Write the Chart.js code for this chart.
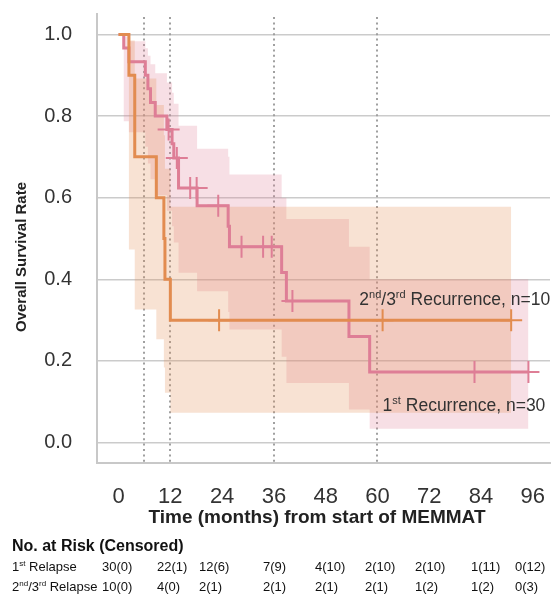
<!DOCTYPE html>
<html>
<head>
<meta charset="utf-8">
<title>Overall survival by recurrence</title>
<script src="https://cdn.jsdelivr.net/npm/chart.js@4.4.0/dist/chart.umd.min.js"></script>
<style>
  html, body { margin: 0; padding: 0; background: #fff; }
  #wrap { width: 552px; height: 594px; }
</style>
</head>
<body>
<div id="wrap"><canvas id="kmChart" width="552" height="594"></canvas></div>
<script>
// --- DATA ---
const xTicks = [0, 12, 24, 36, 48, 60, 72, 84, 96];
const yTicks = [0, 0.2, 0.4, 0.6, 0.8, 1.0];
const landmarkMonths = [6, 12, 36, 60];

// 1st recurrence, n=30
const firstTimes = [0, 1.2, 2.4, 6.2, 6.8, 7.4, 8.5, 11.2, 12.4, 12.8, 13.9, 18.2, 25.4, 25.7, 37.8, 38.9, 53.4, 58.2, 95.0];
const firstSurv  = [1, 0.967, 0.933, 0.9, 0.867, 0.833, 0.8, 0.767, 0.732, 0.697, 0.624, 0.58, 0.53, 0.48, 0.417, 0.347, 0.26, 0.173, 0.173];
const firstUpper = [1, 0.995, 0.983, 0.966, 0.948, 0.927, 0.905, 0.882, 0.857, 0.83, 0.776, 0.72, 0.70, 0.657, 0.60, 0.548, 0.48, 0.40, 0.40];
const firstLower = [1, 0.787, 0.76, 0.725, 0.684, 0.645, 0.606, 0.568, 0.53, 0.49, 0.416, 0.371, 0.32, 0.277, 0.21, 0.146, 0.081, 0.034, 0.034];
const firstCensorTimes = [11.6, 13.5, 16.6, 18.1, 23.1, 28.5, 33.5, 35.5, 40.3, 82.5, 95.0];
const firstCensorSurv  = [0.767, 0.697, 0.624, 0.624, 0.58, 0.48, 0.48, 0.48, 0.347, 0.173, 0.173];

// 2nd/3rd recurrence, n=10
const laterTimes = [0, 2.4, 3.75, 8.75, 10.5, 10.75, 12.0, 91.0];
const laterSurv  = [1, 0.9, 0.7, 0.6, 0.5, 0.4, 0.3, 0.3];
const laterUpper = [1, 0.985, 0.892, 0.827, 0.753, 0.671, 0.578, 0.578];
const laterLower = [1, 0.473, 0.326, 0.253, 0.184, 0.122, 0.073, 0.073];
const laterCensorTimes = [23.3, 61.2, 91.0];
const laterCensorSurv  = [0.3, 0.3, 0.3];

// number at risk table
const riskTimes = [0, 12, 24, 36, 48, 60, 72, 84, 96];
const firstAtRisk   = [30, 22, 12, 7, 4, 2, 2, 1, 0];
const firstCensored = [0, 1, 6, 9, 10, 10, 10, 11, 12];
const laterAtRisk   = [10, 4, 2, 2, 2, 2, 1, 1, 0];
const laterCensored = [0, 0, 1, 1, 1, 1, 2, 2, 3];

// --- STYLE ---
const FONT = '"Liberation Sans", Arial, Helvetica, sans-serif';
const pinkLine = 'rgb(222, 126, 150)';
const pinkBand = 'rgba(222, 126, 150, 0.25)';
const orangeLine = 'rgb(226, 140, 80)';
const orangeBand = 'rgba(226, 140, 80, 0.25)';

const toPoints = (xs, ys) => xs.map((t, i) => ({ x: t, y: ys[i] }));

// draws text with superscript parts, e.g. [['1', 0], ['st', 1]]
function drawRich(ctx, parts, x, y, size, weight) {
    const supSize = Math.round(size * 0.6);
    let cx = x;
    parts.forEach(([txt, sup]) => {
        ctx.font = `${weight || 'normal'} ${sup ? supSize : size}px ${FONT}`;
        ctx.fillText(txt, cx, sup ? y - size * 0.38 : y);
        cx += ctx.measureText(txt).width;
    });
}

const kmExtras = {
    id: 'kmExtras',
    beforeDatasetsDraw(chart) {
        const { ctx, chartArea, scales: { x } } = chart;
        ctx.save();
        ctx.strokeStyle = '#a0a0a0';
        ctx.lineWidth = 2;
        ctx.setLineDash([2, 3.4]);
        landmarkMonths.forEach(m => {
            const px = Math.round(x.getPixelForValue(m));
            ctx.beginPath();
            ctx.moveTo(px, chartArea.top + 3);
            ctx.lineTo(px, chartArea.bottom);
            ctx.stroke();
        });
        ctx.restore();
    },
    afterDraw(chart) {
        const { ctx, scales: { x, y } } = chart;
        ctx.save();

        // axis titles
        ctx.textAlign = 'center';
        ctx.textBaseline = 'middle';
        ctx.fillStyle = '#222';
        ctx.font = `bold 19px ${FONT}`;
        ctx.fillText('Time (months) from start of MEMMAT', 317, 518);

        ctx.translate(22, 257);
        ctx.rotate(-Math.PI / 2);
        ctx.font = `bold 15px ${FONT}`;
        ctx.fillText('Overall Survival Rate', 0, 0);
        ctx.setTransform(1, 0, 0, 1, 0, 0);

        ctx.textAlign = 'left';
        ctx.textBaseline = 'alphabetic';

        // group labels
        ctx.fillStyle = '#333';
        drawRich(ctx, [['2', 0], ['nd', 1], ['/3', 0], ['rd', 1], [' Recurrence, n=10', 0]],
            x.getPixelForValue(55.8), y.getPixelForValue(0.338), 17.5);
        drawRich(ctx, [['1', 0], ['st', 1], [' Recurrence, n=30', 0]],
            x.getPixelForValue(61.2), y.getPixelForValue(0.078), 17.5);

        // number at risk table
        const colX = [102, 157, 199, 263, 315, 365, 415, 471, 515];
        ctx.fillStyle = '#111';
        ctx.font = `bold 16px ${FONT}`;
        ctx.fillText('No. at Risk (Censored)', 12, 551);

        const rows = [
            { label: [['1', 0], ['st', 1], [' Relapse', 0]], atRisk: firstAtRisk, cens: firstCensored, y: 571 },
            { label: [['2', 0], ['nd', 1], ['/3', 0], ['rd', 1], [' Relapse', 0]], atRisk: laterAtRisk, cens: laterCensored, y: 591 }
        ];
        rows.forEach(row => {
            drawRich(ctx, row.label, 12, row.y, 13);
            ctx.font = `13px ${FONT}`;
            riskTimes.forEach((t, i) => {
                ctx.fillText(`${row.atRisk[i]}(${row.cens[i]})`, colX[i], row.y);
            });
        });
        ctx.restore();
    }
};

const ctx = document.getElementById('kmChart').getContext('2d');
const kmChart = new Chart(ctx, {
    type: 'line',
    data: {
        datasets: [
            {   // later line
                data: toPoints(laterTimes, laterSurv),
                borderColor: orangeLine, borderWidth: 3, stepped: true,
                pointRadius: 0, fill: false, order: 0
            },
            {   // later censors
                data: toPoints(laterCensorTimes, laterCensorSurv),
                showLine: false, pointStyle: 'cross', pointRadius: 11,
                pointBorderColor: orangeLine, pointBorderWidth: 2, order: 0
            },
            {   // first line
                data: toPoints(firstTimes, firstSurv),
                borderColor: pinkLine, borderWidth: 3, stepped: true,
                pointRadius: 0, fill: false, order: 1
            },
            {   // first censors
                data: toPoints(firstCensorTimes, firstCensorSurv),
                showLine: false, pointStyle: 'cross', pointRadius: 11,
                pointBorderColor: pinkLine, pointBorderWidth: 2, order: 1
            },
            {   // later CI band
                data: toPoints(laterTimes, laterUpper),
                borderWidth: 0, stepped: true, pointRadius: 0,
                fill: '+1', backgroundColor: orangeBand, order: 2
            },
            {
                data: toPoints(laterTimes, laterLower),
                borderWidth: 0, stepped: true, pointRadius: 0, fill: false, order: 2
            },
            {   // first CI band
                data: toPoints(firstTimes, firstUpper),
                borderWidth: 0, stepped: true, pointRadius: 0,
                fill: '+1', backgroundColor: pinkBand, order: 3
            },
            {
                data: toPoints(firstTimes, firstLower),
                borderWidth: 0, stepped: true, pointRadius: 0, fill: false, order: 3
            }
        ]
    },
    options: {
        responsive: false,
        animation: false,
        devicePixelRatio: 1,
        layout: { autoPadding: false, padding: { left: 0, top: 14, right: 2, bottom: 64 } },
        plugins: { legend: { display: false }, tooltip: { enabled: false } },
        scales: {
            x: {
                type: 'linear', min: -5, max: 100,
                afterBuildTicks: s => { s.ticks = xTicks.map(v => ({ value: v })); },
                afterFit: s => { s.height = 67; s.paddingLeft = 0; s.paddingRight = 0; },
                grid: { color: 'rgba(0,0,0,0)', drawTicks: true, tickLength: 21, tickColor: 'rgba(0,0,0,0)' },
                border: { display: true, color: '#c8c8c8', width: 2 },
                ticks: { font: { family: FONT, size: 22 }, color: '#333', padding: 0, maxRotation: 0, autoSkip: false },
                title: { display: false }
            },
            y: {
                type: 'linear', min: -0.05, max: 1.05,
                afterBuildTicks: s => { s.ticks = yTicks.map(v => ({ value: v })); },
                afterFit: s => { s.width = 97; s.paddingTop = 0; s.paddingBottom = 0; },
                grid: { color: '#cbcbcb', lineWidth: 1.5, drawTicks: false },
                border: { display: true, color: '#c8c8c8', width: 2 },
                ticks: { font: { family: FONT, size: 20 }, color: '#333', padding: 25, callback: v => v.toFixed(1) },
                title: { display: false }
            }
        }
    },
    plugins: [kmExtras]
});
</script>
</body>
</html>
